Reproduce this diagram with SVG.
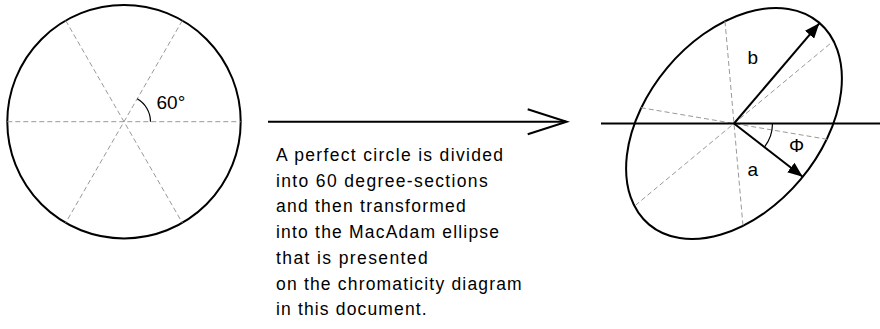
<svg xmlns="http://www.w3.org/2000/svg" width="880" height="329" viewBox="0 0 880 329">
<style>
.outline{fill:none;stroke:#000;stroke-width:2}
.dash{fill:none;stroke:#999;stroke-width:1;stroke-dasharray:5 3}
.thin{fill:none;stroke:#000;stroke-width:1.2}
.axis{fill:none;stroke:#000;stroke-width:2}
.lbl{font-family:"Liberation Sans",Arial,sans-serif;font-size:19px;fill:#000}
.txt{font-family:"Liberation Sans",Arial,sans-serif;font-size:17.5px;fill:#000}
</style>
<defs>
<marker id="solid" markerUnits="userSpaceOnUse" markerWidth="16" markerHeight="12" refX="15" refY="6" orient="auto" viewBox="0 0 16 12">
<path d="M0,0 L15,6 L0,12 z" fill="#000"/>
</marker>
</defs>

<g id="circle">
<circle class="outline" cx="124" cy="121.7" r="116.7"/>
<line class="dash" x1="7.3" y1="121.7" x2="240.7" y2="121.7"/>
<line class="dash" x1="65.7" y1="20.6" x2="182.3" y2="222.8"/>
<line class="dash" x1="182.3" y1="20.6" x2="65.7" y2="222.8"/>
<path class="thin" d="M150.5,121.7 A26.5,26.5 0 0 0 137.25,98.75"/>
<text class="lbl" x="156.5" y="109.3">60°</text>
</g>

<g id="transform-arrow">
<line class="axis" x1="268" y1="121.7" x2="566" y2="121.7"/>
<polyline class="axis" points="527.7,109.3 566.7,121.7 527.7,134.3"/>
</g>

<g id="caption">
<text class="txt" x="276" y="161" textLength="227" lengthAdjust="spacing">A perfect circle is divided</text>
<text class="txt" x="276" y="186.7" textLength="211.7" lengthAdjust="spacing">into 60 degree-sections</text>
<text class="txt" x="276" y="212.4" textLength="189.7" lengthAdjust="spacing">and then transformed</text>
<text class="txt" x="276" y="238.1" textLength="223" lengthAdjust="spacing">into the MacAdam ellipse</text>
<text class="txt" x="276" y="263.8" textLength="151.7" lengthAdjust="spacing">that is presented</text>
<text class="txt" x="276" y="289.5" textLength="245.7" lengthAdjust="spacing">on the chromaticity diagram</text>
<text class="txt" x="276" y="315.2" textLength="150.7" lengthAdjust="spacing">in this document.</text>
</g>

<g id="ellipse">
<ellipse class="outline" cx="734" cy="123.5" rx="132" ry="87" transform="rotate(-50 734 123.5)"/>
<line class="dash" x1="640.85" y1="107.7" x2="827.15" y2="139.3"/>
<line class="dash" x1="725" y1="21.2" x2="743" y2="225.8"/>
<line class="dash" x1="635.2" y1="205.5" x2="832.8" y2="41.5"/>
<line class="axis" x1="601" y1="123.5" x2="880" y2="123.5"/>
<path class="thin" d="M772.5,123.5 A38.5,38.5 0 0 1 764.4,147.1"/>
<text class="lbl" x="747.5" y="64">b</text>
<text class="lbl" x="747.5" y="175.7">a</text>
<text class="lbl" x="789" y="151.7">Φ</text>
</g>

<g id="connectors">
<line class="axis" x1="734" y1="123.5" x2="819.3" y2="23.3" marker-end="url(#solid)"/>
<line class="axis" x1="734" y1="123.5" x2="802.7" y2="176.7" marker-end="url(#solid)"/>
</g>
</svg>
